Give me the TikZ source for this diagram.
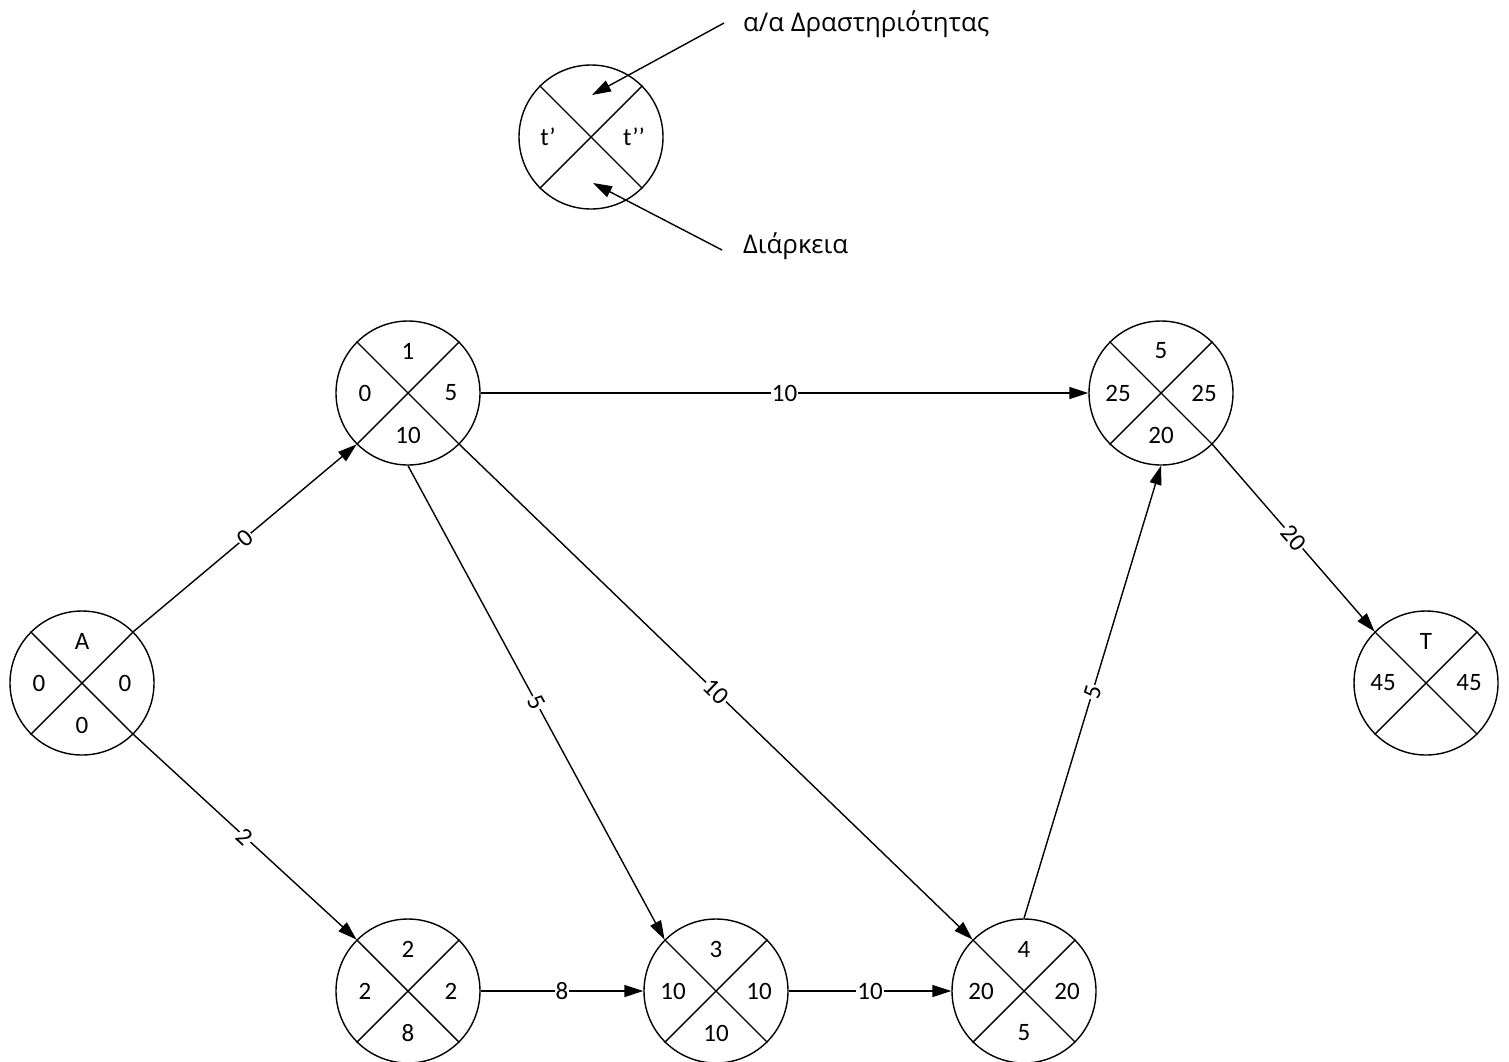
\documentclass[tikz,border=0pt]{standalone}
\usepackage{fontspec}
\setmainfont{Carlito}
\newfontfamily\legfont{Open Sans}
\usetikzlibrary{arrows.meta}
\begin{document}
\begin{tikzpicture}[x=1pt,y=-1pt,
  ev/.style={circle,draw,line width=1.4pt,minimum size=144pt,inner sep=0pt},
  qt/.style={font=\fontsize{25}{29}\selectfont,inner sep=0pt},
  arr/.style={line width=1.4pt,-{Triangle[length=19pt,width=12pt]}},
  lbl/.style={sloped,fill=white,inner sep=1pt,font=\fontsize{25}{29}\selectfont},
  xl/.style={line width=1.4pt},
  leg/.style={anchor=base west,inner sep=0pt,font=\legfont\fontsize{25.8}{30}\selectfont}]
\useasboundingbox (0,0) rectangle (1509,1061);
\newcommand\evnode[7]{%
  \node[ev] (#1) at (#2,#3) {};
  \draw[xl] (#1.45) -- (#1.225);
  \draw[xl] (#1.135) -- (#1.-45);
  \node[qt] (#1t) at (#2,#3-42) {#4};
  \node[qt] (#1l) at (#2-43,#3) {#5};
  \node[qt] (#1r) at (#2+43,#3) {#6};
  \node[qt] (#1b) at (#2,#3+42) {#7};
}
\evnode{nL}{591}{137}{}{t’}{t’’}{}
\evnode{n1}{408}{393}{1}{0}{5}{10}
\evnode{n5}{1161}{393}{5}{25}{25}{20}
\evnode{nA}{82}{683}{A}{0}{0}{0}
\evnode{nT}{1426}{683}{T}{45}{45}{}
\evnode{n2}{408}{991}{2}{2}{2}{8}
\evnode{n3}{716}{991}{3}{10}{10}{10}
\evnode{n4}{1024}{991}{4}{20}{20}{5}
% legend
\node[leg] (lt) at (743,31) {α/α Δραστηριότητας};
\node[leg] (lb) at (743,253) {Διάρκεια};
\coordinate (ta) at (724,23);
\coordinate (tb) at (592,95);
\coordinate (ba) at (722,250);
\coordinate (bb) at (593,183);
\draw[arr] (ta) -- (tb);
\draw[arr] (ba) -- (bb);
% edges
\draw[arr] (nA.45) -- node[lbl] (e1) {0} (n1.225);
\draw[arr] (nA.-45) -- node[lbl] (e2) {2} (n2.135);
\draw[arr] (n1.east) -- node[lbl] (e3) {10} (n5.west);
\draw[arr] (n1.south) -- node[lbl] (e4) {5} (n3.135);
\draw[arr] (n1.-45) -- node[lbl] (e5) {10} (n4.135);
\draw[arr] (n2.east) -- node[lbl] (e6) {8} (n3.west);
\draw[arr] (n3.east) -- node[lbl] (e7) {10} (n4.west);
\draw[arr] (n4.north) -- node[lbl] (e8) {5} (n5.south);
\draw[arr] (n5.-45) -- node[lbl] (e9) {20} (nT.135);
\end{tikzpicture}
\end{document}
